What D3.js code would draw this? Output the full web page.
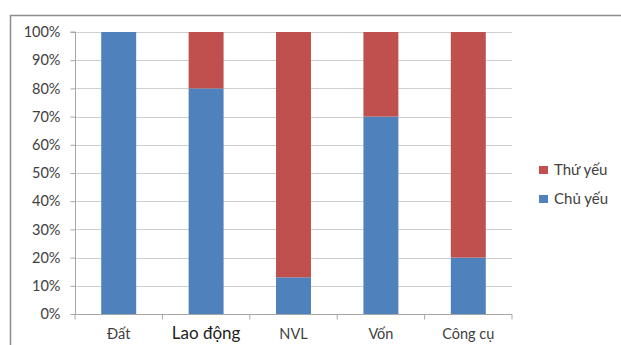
<!DOCTYPE html>
<html><head><meta charset="utf-8">
<script src="https://cdn.jsdelivr.net/npm/d3@7"></script>
<style>body{margin:0;background:#fff}svg{display:block}text{font-family:Lato,"Open Sans",sans-serif}</style>
</head><body>
<svg id="c" width="621" height="345"></svg>
<script>
const categories = ["Đất", "Lao động", "NVL", "Vốn", "Công cụ"];
const chuYeu = [100, 80, 13, 70, 20];
const thuYeu = [0, 20, 87, 30, 80];
const yTicks = [0, 10, 20, 30, 40, 50, 60, 70, 80, 90, 100];
const seriesNames = ["Chủ yếu", "Thứ yếu"];
const colors = {"Chủ yếu": "#4f81bd", "Thứ yếu": "#c0504d"};

const svg = d3.select("#c");
svg.append("line").attr("x1",10).attr("x2",621).attr("y1",15.5).attr("y2",15.5).attr("stroke","#8c8c8c").attr("stroke-width",1.5);
svg.append("line").attr("x1",10.5).attr("x2",10.5).attr("y1",15).attr("y2",345).attr("stroke","#8c8c8c").attr("stroke-width",1.5);

const L=75, R=512, T=32, B=314;
const x = d3.scaleBand().domain(categories).range([L,R]).paddingInner(0.6).paddingOuter(0.3);
const y = d3.scaleLinear().domain([0,100]).range([B,T]);

svg.append("g").selectAll("line").data(yTicks.filter(d=>d>0)).join("line")
  .attr("x1",L).attr("x2",R).attr("y1",d=>Math.round(y(d))+0.5).attr("y2",d=>Math.round(y(d))+0.5)
  .attr("stroke","#cfcfcf").attr("stroke-width",1.2);

const rows = categories.map((c,i)=>({cat:c, "Chủ yếu":chuYeu[i], "Thứ yếu":thuYeu[i]}));
const stack = d3.stack().keys(seriesNames)(rows);
svg.append("g").selectAll("g").data(stack).join("g").attr("fill",d=>colors[d.key])
  .selectAll("rect").data(d=>d).join("rect")
  .attr("x",d=>x(d.data.cat)).attr("width",x.bandwidth())
  .attr("y",d=>y(d[1])).attr("height",d=>y(d[0])-y(d[1]));

const ya = svg.append("g").attr("transform",`translate(${L+0.5},0)`)
  .call(d3.axisLeft(y).tickValues(yTicks).tickFormat(d=>d+"%").tickSize(5).tickPadding(10));
ya.select(".domain").attr("stroke","#a6a6a6").attr("d",`M-5,${T}H0V${B}`);
ya.selectAll(".tick line").attr("stroke","#a6a6a6");
ya.selectAll("text").attr("font-size",14.5).attr("fill","#404040");

const xa = svg.append("g").attr("transform",`translate(0,${B+0.5})`);
xa.append("line").attr("x1",L).attr("x2",R).attr("stroke","#a6a6a6");
const bounds = d3.range(categories.length+1).map(i=>L+i*(R-L)/categories.length);
xa.selectAll(".tk").data(bounds).join("line").attr("class","tk")
  .attr("x1",d=>d).attr("x2",d=>d).attr("y1",0).attr("y2",5).attr("stroke","#a6a6a6");
xa.selectAll("text").data(categories).join("text")
  .attr("x",d=>x(d)+x.bandwidth()/2).attr("y",19)
  .attr("dy","0.35em").attr("text-anchor","middle")
  .attr("font-size",d=>d==="Lao động"?17:14.5)
  .attr("fill",d=>d==="Lao động"?"#222":"#404040")
  .text(d=>d);

const leg = svg.append("g");
const legItems = ["Thứ yếu","Chủ yếu"];
legItems.forEach((k,i)=>{
  const cy = 170 + i*29;
  leg.append("rect").attr("x",539).attr("y",cy-4).attr("width",9).attr("height",8).attr("fill",colors[k]);
  leg.append("text").attr("x",554).attr("y",cy).attr("dy","0.35em").attr("font-size",15).attr("fill","#404040").text(k);
});
</script>
</body></html>
